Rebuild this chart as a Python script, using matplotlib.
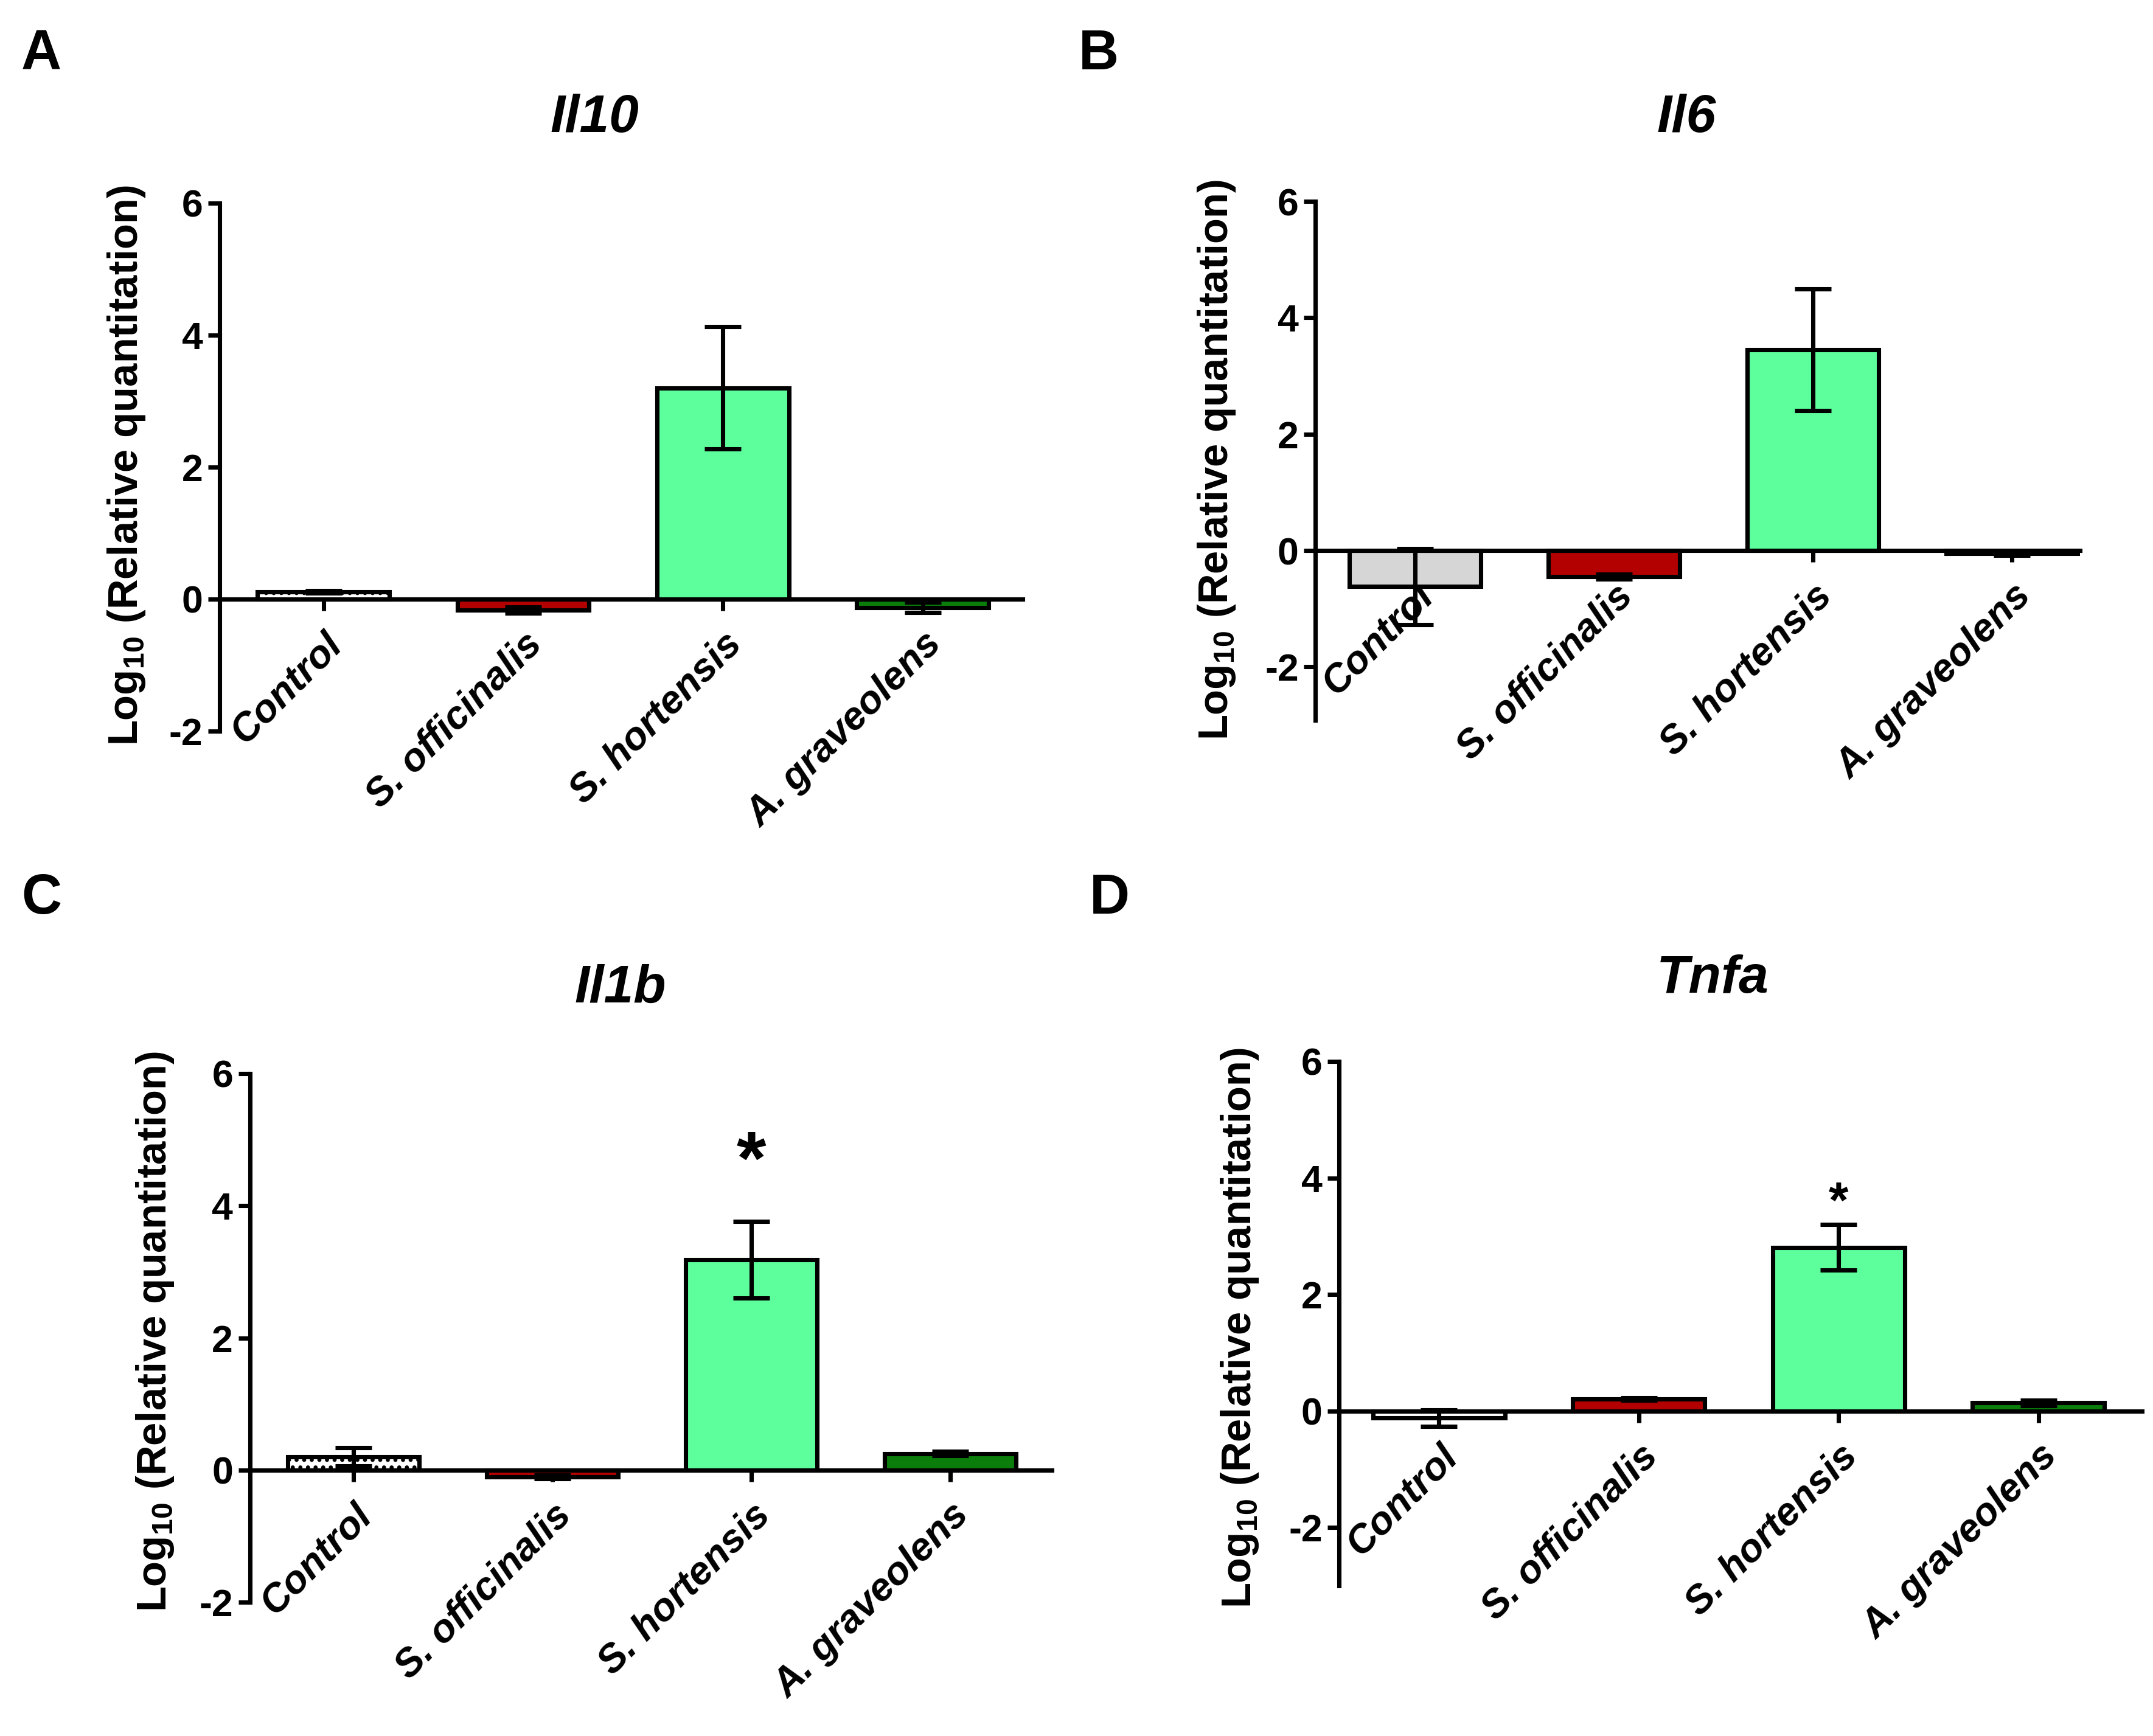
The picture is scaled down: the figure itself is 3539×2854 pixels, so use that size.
import matplotlib
matplotlib.use("Agg")
import matplotlib.pyplot as plt
from matplotlib import font_manager

# data (log10 relative quantitation, mean and error)
groups = ["Control", "S. officinalis", "S. hortensis", "A. graveolens"]
genes = ["Il10", "Il6", "Il1b", "Tnfa"]
panel_letters = ["A", "B", "C", "D"]

il10_mean = [0.11, -0.17, 3.20, -0.13]
il10_err = [0.02, 0.05, 0.93, 0.08]
il6_mean = [-0.62, -0.45, 3.45, -0.05]
il6_err = [0.65, 0.04, 1.05, 0.03]
il1b_mean = [0.20, -0.10, 3.18, 0.25]
il1b_err = [0.14, 0.03, 0.58, 0.03]
tnfa_mean = [-0.12, 0.21, 2.81, 0.14]
tnfa_err = [0.14, 0.02, 0.39, 0.05]

# significance marks: (group index, y position, text size)
il1b_star = (2, 4.62, 30)
tnfa_star = (2, 3.55, 20)

names = {f.name for f in font_manager.fontManager.ttflist}
NARROW = "Liberation Sans Narrow" if "Liberation Sans Narrow" in names else "Liberation Sans"
plt.rcParams["font.family"] = ["Liberation Sans", "DejaVu Sans"]
plt.rcParams["mathtext.fontset"] = "custom"
plt.rcParams["mathtext.bf"] = "Liberation Sans:bold"
plt.rcParams["mathtext.rm"] = "Liberation Sans"
plt.rcParams["axes.unicode_minus"] = False

W, H = 3539, 2854
fig = plt.figure(figsize=(W / 300, H / 300), dpi=300)

colors = ["#d6d6d6", "#b30000", "#5dff9d", "#0a7d0a"]

panels = [
    # mean, err, rect (l, b, w, h), ylim, xlim, title pos, ylabel pos, letter pos, star, control style
    (il10_mean, il10_err, [0.102, 0.579, 0.373, 0.304], (-2, 6), (-0.52, 3.5),
     (977, 194), (208, 765), (68, 90), None, "...."),
    (il6_mean, il6_err, [0.611, 0.585, 0.355, 0.299], (-2.92, 6), (-0.5, 3.34),
     (2772, 194), (2000, 756), (1806, 90), None, None),
    (il1b_mean, il1b_err, [0.116, 0.077, 0.3726, 0.3046], (-2, 6), (-0.52, 3.51),
     (1020, 1625), (255, 2189), (68, 1478), il1b_star, "...."),
    (tnfa_mean, tnfa_err, [0.622, 0.0865, 0.373, 0.3021], (-3.0, 6), (-0.5, 3.52),
     (2815, 1609), (2038, 2183), (1824, 1478), tnfa_star, ""),
]

for i, (mean, err, rect, ylim, xlim, tpos, ypos, lpos, star, hatch) in enumerate(panels):
    ax = fig.add_axes(rect)
    x = list(range(len(groups)))
    bars = ax.bar(x, mean, width=0.66, color=colors, edgecolor="black",
                  linewidth=1.7, zorder=2)
    if hatch is not None:
        bars[0].set_facecolor("white")
        if hatch:
            bars[0].set_hatch(hatch)
    ax.errorbar(x, mean, yerr=err, fmt="none", ecolor="black", elinewidth=1.7,
                capsize=7.3, capthick=1.7, zorder=3)

    # x axis crosses at zero (set before tick styling, it resets the ticks)
    ax.spines["top"].set_visible(False)
    ax.spines["right"].set_visible(False)
    ax.spines["bottom"].set_position(("data", 0))
    ax.spines["bottom"].set_zorder(4)
    for s in ("left", "bottom"):
        ax.spines[s].set_linewidth(1.7)
    ax.patch.set_visible(False)

    ax.set_ylim(*ylim)
    ax.set_xlim(*xlim)
    ax.tick_params(axis="both", direction="out", length=4.6, width=1.7,
                   colors="black")
    ax.tick_params(axis="x", pad=6)
    ax.tick_params(axis="y", pad=2)
    ax.set_yticks([-2, 0, 2, 4, 6])
    ax.set_yticklabels(["-2", "0", "2", "4", "6"], fontsize=15,
                       fontweight="bold", family=NARROW)
    ax.set_xticks(x)
    ax.set_xticklabels(groups, rotation=45, ha="right", va="top",
                       rotation_mode="anchor", fontsize=15.5, fontweight="bold",
                       fontstyle="italic")

    if star:
        ax.text(star[0], star[1], "*", ha="center", va="center",
                fontsize=star[2], fontweight="bold")

    fig.text(tpos[0] / W, 1 - tpos[1] / H, genes[i], ha="center", va="center",
             fontsize=21, fontweight="bold", fontstyle="italic", family=NARROW)
    fig.text(ypos[0] / W, 1 - ypos[1] / H,
             r"Log$_\mathbf{10}$ (Relative quantitation)", rotation=90,
             ha="center", va="center", fontsize=16.5, fontweight="bold")
    fig.text(lpos[0] / W, 1 - lpos[1] / H, panel_letters[i], ha="center",
             va="center", fontsize=22, fontweight="bold", family=NARROW)

fig.savefig("out.png", dpi=300)
